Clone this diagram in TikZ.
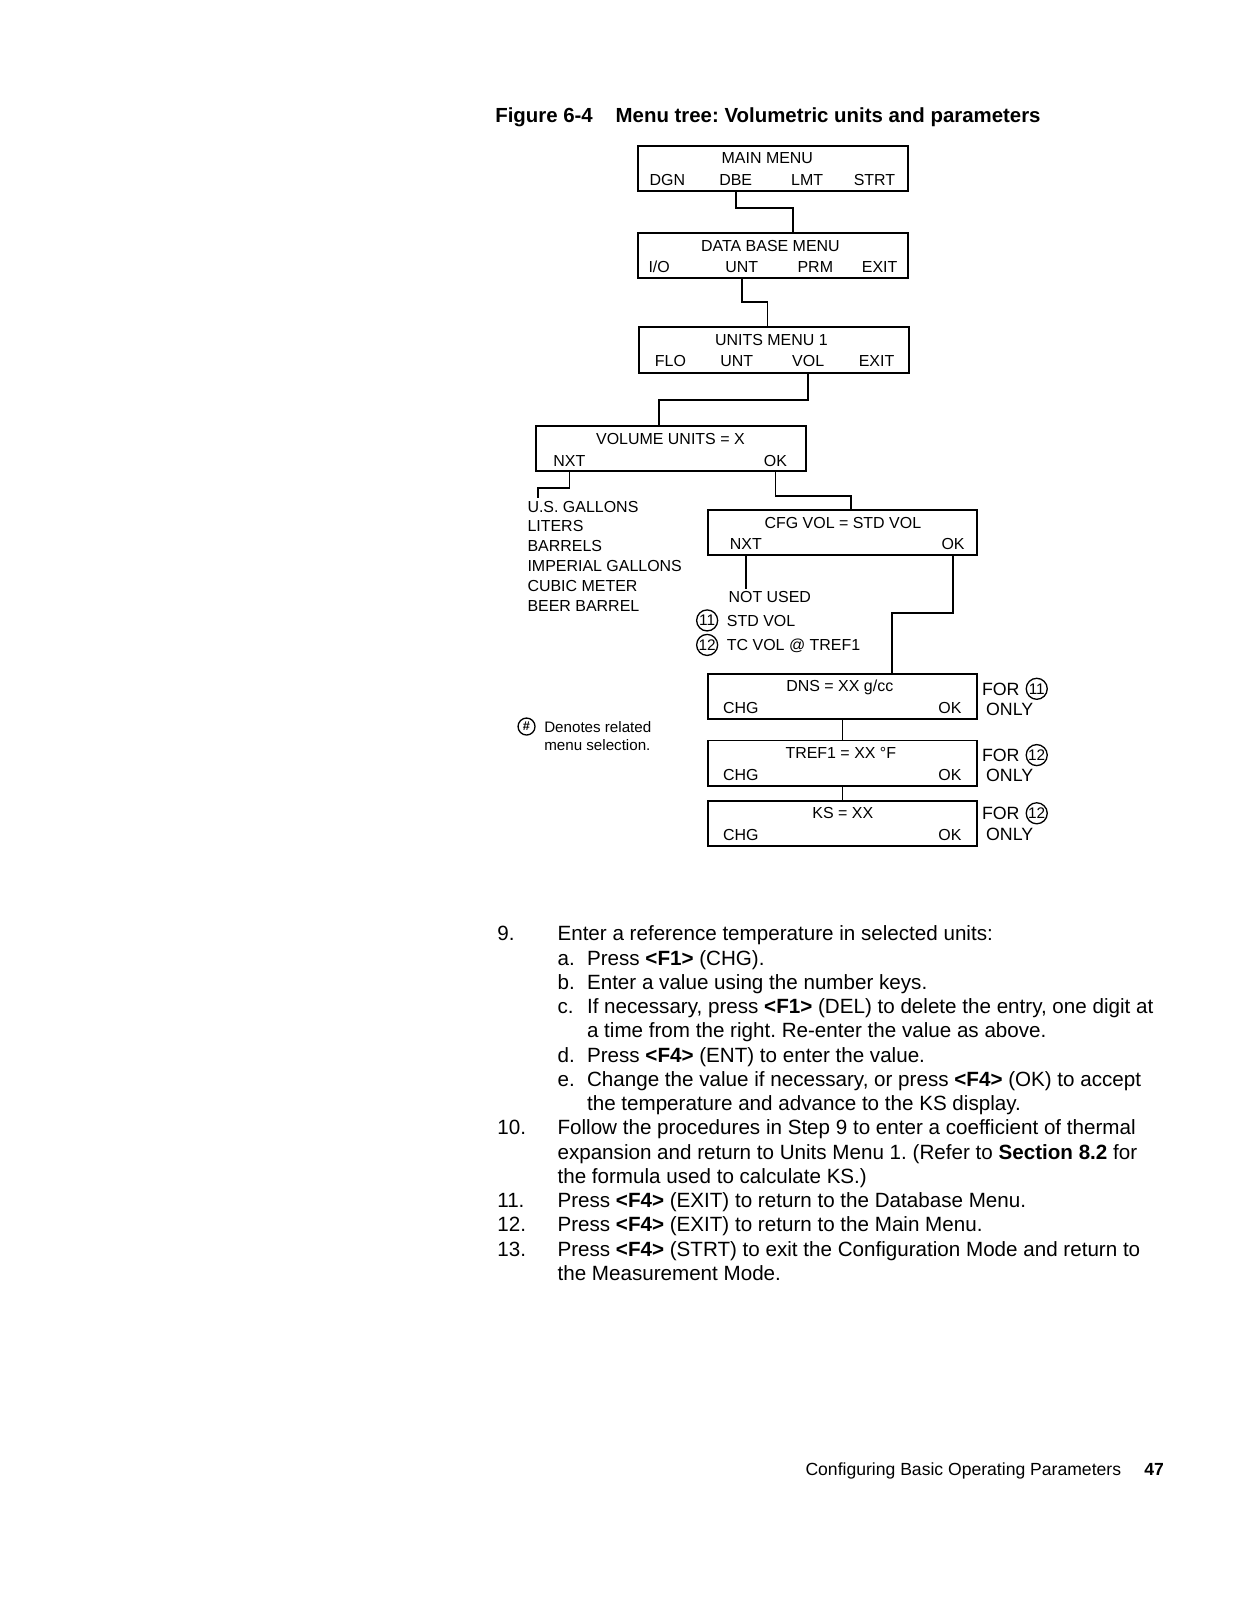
\documentclass[tikz,border=0pt]{standalone}
\usepackage{fontspec}
\setmainfont{Liberation Sans}
\usetikzlibrary{calc}
\frenchspacing
\newcommand{\menutext}{\fontsize{7.9}{9.8}\selectfont}
\newcommand{\bodytext}{\fontsize{10.2}{12}\selectfont}
\newcommand{\titletext}{\fontsize{10.1}{12}\selectfont}
\newcommand{\notetext}{\fontsize{8.8}{10}\selectfont}
\newcommand{\legendtext}{\fontsize{7.5}{9}\selectfont}
\newcommand{\footertext}{\fontsize{8.7}{10}\selectfont}

\begin{document}
\begin{tikzpicture}[x=0.505pt,y=-0.505pt,font=\menutext,
  menubox/.style={draw,line width=0.9pt,minimum width=133.3pt,minimum height=22.5pt,inner sep=0pt,outer sep=0pt},
  lbl/.style={anchor=base,inner sep=0pt},
  lbw/.style={anchor=base west,inner sep=0pt},
  wire/.style={line width=0.8pt},
  selnum/.style={circle,draw,line width=0.65pt,inner sep=0pt,minimum size=10.4pt,font=\fontsize{7.6}{7.6}\selectfont}]
\useasboundingbox[fill=white] (0,0) rectangle (1212,1568);

% caption
\node[lbw,font=\titletext\bfseries] (figno) at (485,120) {Figure 6-4};
\node[lbw,font=\titletext\bfseries] (figttl) at (603,120) {Menu tree: Volumetric units and parameters};

% menu displays
\node[menubox] (main) at (757.5,165) {};
\node[menubox] (dbase) at (757.5,250.5) {};
\node[menubox] (units) at (758.5,343) {};
\node[menubox] (volume) at (657.5,439.5) {};
\node[menubox] (cfgvol) at (825.5,522) {};
\node[menubox] (dns) at (825.5,682.5) {};
\node[menubox] (tref) at (825.5,748) {};
\node[menubox] (ks) at (825.5,807) {};

\node[lbl] (mttl) at (752,160.6) {MAIN MENU};
\node[lbl] (mdgn) at (654,181.6) {DGN};
\node[lbl] (mdbe) at (721,181.6) {DBE};
\node[lbl] (mlmt) at (791,181.6) {LMT};
\node[lbl] (mstrt) at (857,181.6) {STRT};

\node[lbl] (dttl) at (755,246) {DATA BASE MENU};
\node[lbl] (dio) at (646,267) {I/O};
\node[lbl] (dunt) at (727,267) {UNT};
\node[lbl] (dprm) at (799,267) {PRM};
\node[lbl] (dexit) at (862,267) {EXIT};

\node[lbl] (uttl) at (756,338.6) {UNITS MENU 1};
\node[lbl] (uflo) at (657,359.6) {FLO};
\node[lbl] (uunt) at (722,359.6) {UNT};
\node[lbl] (uvol) at (792,359.6) {VOL};
\node[lbl] (uexit) at (859,359.6) {EXIT};

\node[lbl] (vttl) at (657,436) {VOLUME UNITS = X};
\node[lbl] (vnxt) at (558,457) {NXT};
\node[lbl] (vok) at (760,457) {OK};

\node[lbl] (cttl) at (826,517.6) {CFG VOL = STD VOL};
\node[lbl] (cnxt) at (731,538.6) {NXT};
\node[lbl] (cok) at (934,538.6) {OK};

\node[lbl] (nttl) at (823,678) {DNS = XX g/cc};
\node[lbl] (nchg) at (726,699) {CHG};
\node[lbl] (nok) at (931,699) {OK};

\node[lbl] (tttl) at (824,743.6) {TREF1 = XX °F};
\node[lbl] (tchg) at (726,764.6) {CHG};
\node[lbl] (tok) at (931,764.6) {OK};

\node[lbl] (kttl) at (826,802.6) {KS = XX};
\node[lbl] (kchg) at (726,823.6) {CHG};
\node[lbl] (kok) at (931,823.6) {OK};

% selections
\node[anchor=north west,align=left,inner sep=0pt,outer sep=1.5pt] (unitlist) at (514,488)
  {U.S. GALLONS\\LITERS\\BARRELS\\IMPERIAL GALLONS\\CUBIC METER\\BEER BARREL};
\node[lbw,outer sep=1pt] (notused) at (712,590.6) {NOT USED};
\node[selnum] (sel11) at (693,608) {11};
\node[lbw] (stdvol) at (712,613.6) {STD VOL};
\node[selnum] (sel12) at (693,632) {12};
\node[lbw] (tcvol) at (712,637.6) {TC VOL @ TREF1};

\node[lbw,font=\notetext] (for1) at (962,681.2) {FOR};
\node[selnum] (for1n) at (1016,675) {11};
\node[lbw,font=\notetext] (only1) at (966,701.2) {ONLY};
\node[lbw,font=\notetext] (for2) at (962,746.2) {FOR};
\node[selnum] (for2n) at (1016,740) {12};
\node[lbw,font=\notetext] (only2) at (966,766.2) {ONLY};
\node[lbw,font=\notetext] (for3) at (962,803.2) {FOR};
\node[selnum] (for3n) at (1016,797) {12};
\node[lbw,font=\notetext] (only3) at (966,823.2) {ONLY};

\node[selnum,minimum size=8.4pt,font=\fontsize{6.3}{6.3}\selectfont\bfseries] (hashsel) at (516,712) {\#};
\node[lbw,font=\legendtext] (legend1) at (533,717.4) {Denotes related};
\node[lbw,font=\legendtext] (legend2) at (533,735.4) {menu selection.};

% connectors
\coordinate (j1) at (777,204);
\coordinate (j2) at (752,296);
\coordinate (j3) at (646,392);
\coordinate (j4) at (527,478);
\coordinate (j5) at (834,486);
\coordinate (j7) at (874,601);
\draw[wire] (mdbe |- main.south) |- (j1) -- (j1 |- dbase.north);
\draw[wire] (dunt |- dbase.south) |- (j2) -- (j2 |- units.north);
\draw[wire] (uvol |- units.south) |- (j3) -- (j3 |- volume.north);
\draw[wire] (vnxt |- volume.south) |- (j4) -- (j4 |- unitlist.north);
\draw[wire] (vok |- volume.south) |- (j5) -- (j5 |- cfgvol.north);
\draw[wire] (cnxt |- cfgvol.south) -- (cnxt |- notused.north);
\draw[wire] (cok |- cfgvol.south) |- (j7) -- (j7 |- dns.north);
\draw[wire] (dns.south) -- (tref.north);
\draw[wire] (tref.south) -- (ks.north);

% procedure text
\node[anchor=base west,inner sep=0pt,font=\bodytext] (steps) at (487,922) {%
\begin{tabular}[t]{@{}p{29.8pt}@{}p{14.6pt}@{}l@{}}
9. & \multicolumn{2}{@{}l@{}}{Enter a reference temperature in selected units:}\\
& a. & Press \textbf{<F1>} (CHG).\\
& b. & Enter a value using the number keys.\\
& c. & If necessary, press \textbf{<F1>} (DEL) to delete the entry, one digit at\\
& & a time from the right. Re-enter the value as above.\\
& d. & Press \textbf{<F4>} (ENT) to enter the value.\\
& e. & Change the value if necessary, or press \textbf{<F4>} (OK) to accept\\
& & the temperature and advance to the KS display.\\
10. & \multicolumn{2}{@{}l@{}}{Follow the procedures in Step 9 to enter a coefficient of thermal}\\
& \multicolumn{2}{@{}l@{}}{expansion and return to Units Menu 1. (Refer to \textbf{Section 8.2} for}\\
& \multicolumn{2}{@{}l@{}}{the formula used to calculate KS.)}\\
11. & \multicolumn{2}{@{}l@{}}{Press \textbf{<F4>} (EXIT) to return to the Database Menu.}\\
12. & \multicolumn{2}{@{}l@{}}{Press \textbf{<F4>} (EXIT) to return to the Main Menu.}\\
13. & \multicolumn{2}{@{}l@{}}{Press \textbf{<F4>} (STRT) to exit the Configuration Mode and return to}\\
& \multicolumn{2}{@{}l@{}}{the Measurement Mode.}
\end{tabular}};

% footer
\node[lbw,font=\footertext] (footer) at (789,1446) {Configuring Basic Operating Parameters};
\node[lbw,font=\footertext\bfseries] (pageno) at (1121,1446) {47};
\end{tikzpicture}
\end{document}
